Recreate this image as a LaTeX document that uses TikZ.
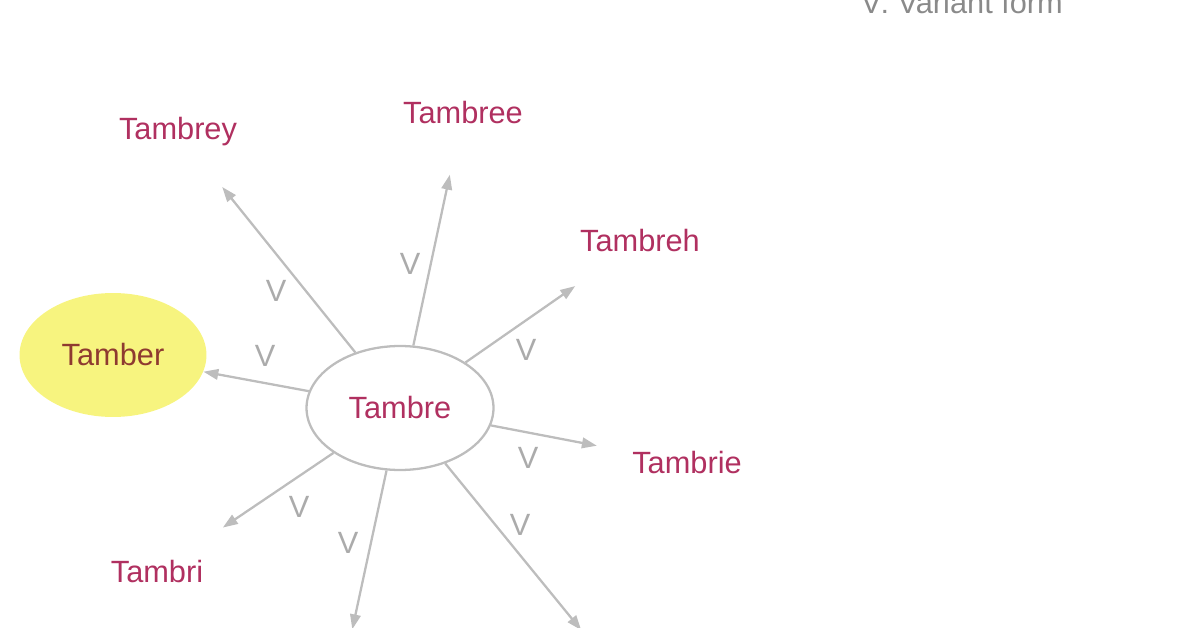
\documentclass[tikz,border=0pt]{standalone}
\usepackage{fontspec}
\setmainfont{Liberation Sans}
\usepackage{xcolor}
\usetikzlibrary{shapes,arrows,positioning,calc,arrows.meta}

\definecolor{namered}{HTML}{B03060}
\definecolor{tambercol}{HTML}{8E3A30}
\definecolor{edgegray}{HTML}{BDBDBD}
\definecolor{vgray}{HTML}{ABABAB}
\definecolor{legendgray}{HTML}{8A8A8A}
\definecolor{khaki}{HTML}{F7F47F}

\begin{document}
\begin{tikzpicture}[x=0.02cm,y=-0.02cm,
    every node/.style={font=\fontsize{17.5}{21}\selectfont},
    word/.style={ellipse,minimum width=3.74cm,minimum height=2.48cm,inner sep=0pt,text=namered},
    vlabel/.style={text=vgray},
    varrow/.style={draw=edgegray,line width=1.3pt,-{Triangle[length=8.5pt,width=6pt]}}]
    \useasboundingbox (0,0) rectangle (1199,628);
    \clip (0,0) rectangle (1199,628);

    % Legend
    \node[anchor=base,text=legendgray] (legend) at (962,14) {V: Variant form};

    % Centre word
    \node[word,draw=edgegray,line width=1.3pt] (tambre) at (400,408) {Tambre};

    % Variants
    \node[word,fill=khaki,text=tambercol] (tamber) at (113,355) {Tamber};
    \node[word] (tambrey) at (178,132) {Tambrey};
    \node[word] (tambree) at (463,113) {Tambree};
    \node[word] (tambreh) at (640,241) {Tambreh};
    \node[word] (tambrie) at (687,463) {Tambrie};
    \node[word] (tambri) at (157,572) {Tambri};
    \node[word] (lowleft) at (339,691) {};
    \node[word] (lowright) at (626,685) {};

    % Edges
    \foreach \t in {tamber,tambrey,tambree,tambreh,tambrie,tambri,lowleft,lowright}
        \draw[varrow] (tambre) -- (\t);

    % Edge labels
    \node[vlabel] (v1) at (265,356) {V};
    \node[vlabel] (v2) at (276,291) {V};
    \node[vlabel] (v3) at (410,264) {V};
    \node[vlabel] (v4) at (526,350) {V};
    \node[vlabel] (v5) at (528,458) {V};
    \node[vlabel] (v6) at (299,507) {V};
    \node[vlabel] (v7) at (348,543) {V};
    \node[vlabel] (v8) at (520,525) {V};
\end{tikzpicture}
\end{document}
